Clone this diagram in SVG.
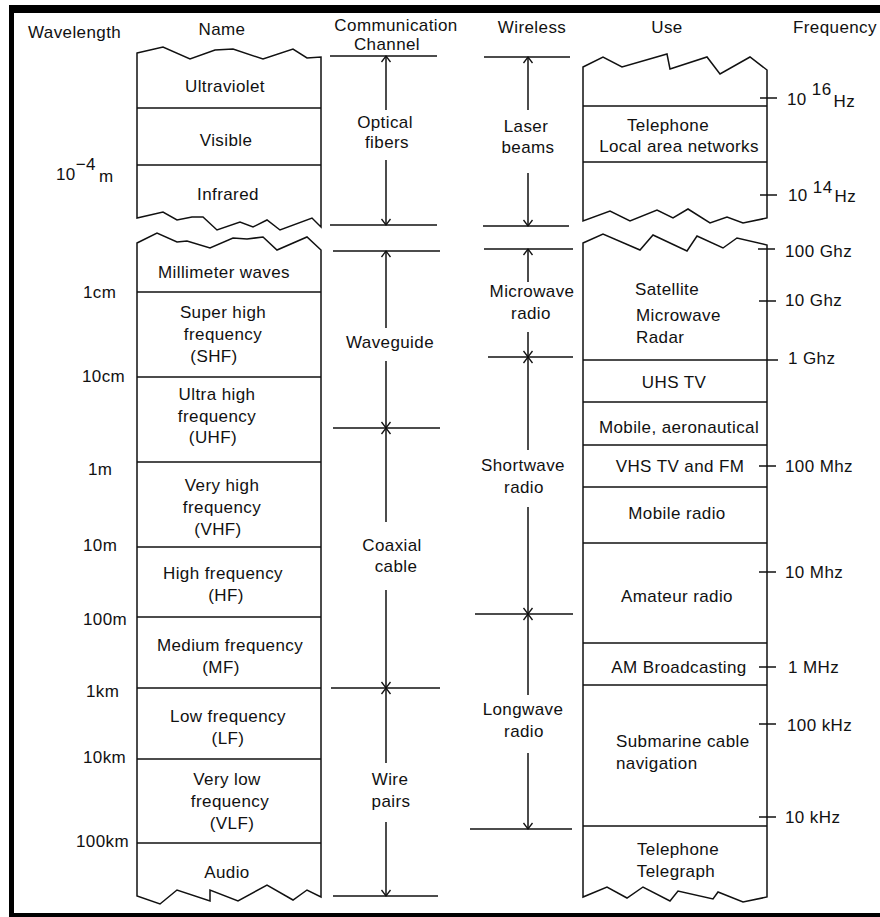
<svg xmlns="http://www.w3.org/2000/svg" width="880" height="917" viewBox="0 0 880 917">
<defs>
<style>
text{font-family:"Liberation Sans",Arial,sans-serif;font-size:17px;fill:#111;letter-spacing:0.4px}
.c{text-anchor:middle}
.ln{stroke:#111;stroke-width:1.5;fill:none}
.box{stroke:#111;stroke-width:1.5;fill:#fff;stroke-linejoin:miter}
.arr{stroke:#111;stroke-width:1.5;fill:none;marker-end:url(#ah)}
</style>
<marker id="ah" markerUnits="userSpaceOnUse" viewBox="-8 -6 10 12" refX="0" refY="0" markerWidth="10" markerHeight="12" orient="auto">
<path d="M-6,-4.5 L0,0 L-6,4.5" fill="none" stroke="#111" stroke-width="1.3"/>
</marker>
</defs>
<rect width="880" height="917" fill="#fff"/>
<g id="frame">
<rect x="9" y="5" width="871" height="8" fill="#000"/>
<rect x="9" y="5" width="5" height="912" fill="#000"/>
<rect x="9" y="913" width="871" height="4" fill="#000"/>
</g>
<g id="headers">
<text x="28" y="38">Wavelength</text>
<text class="c" x="222" y="35">Name</text>
<text class="c" x="396" y="31">Communication</text>
<text class="c" x="387" y="50">Channel</text>
<text class="c" x="532" y="33">Wireless</text>
<text class="c" x="667" y="33">Use</text>
<text x="793" y="33">Frequency</text>
</g>
<g id="name-column">
<g id="name-optical">
<path class="box" d="M137,53 L163,47 L190,59 L215,50 L233,49 L263,59 L293,49 L307,58 L321,57 L321,227 L312,218 L280,230 L267,220 L253,227 L240,222 L217,230 L203,217 L192,217 L177,220 L163,212 L137,218 Z"/>
<line class="ln" x1="137" y1="108" x2="321" y2="108"/>
<line class="ln" x1="137" y1="165" x2="321" y2="165"/>
<text class="c" x="225" y="92">Ultraviolet</text>
<text class="c" x="226" y="146">Visible</text>
<text class="c" x="228" y="200">Infrared</text>
</g>
<g id="name-radio">
<path class="box" d="M137,243 L157,233 L177,242 L187,241 L210,248 L233,238 L247,239 L263,237 L277,250 L307,237 L321,250 L321,897 L307,890 L293,900 L267,885 L238,901 L210,890 L210,901 L177,890 L160,904 L137,896 Z"/>
<line class="ln" x1="137" y1="292" x2="321" y2="292"/>
<line class="ln" x1="137" y1="377" x2="321" y2="377"/>
<line class="ln" x1="137" y1="462" x2="321" y2="462"/>
<line class="ln" x1="137" y1="547" x2="321" y2="547"/>
<line class="ln" x1="137" y1="617" x2="321" y2="617"/>
<line class="ln" x1="137" y1="688" x2="321" y2="688"/>
<line class="ln" x1="137" y1="759" x2="321" y2="759"/>
<line class="ln" x1="137" y1="843" x2="321" y2="843"/>
<text class="c" x="224" y="278">Millimeter waves</text>
<text class="c" x="223" y="318">Super high</text>
<text class="c" x="223" y="340">frequency</text>
<text class="c" x="214" y="362">(SHF)</text>
<text class="c" x="217" y="400">Ultra high</text>
<text class="c" x="217" y="422">frequency</text>
<text class="c" x="213" y="443">(UHF)</text>
<text class="c" x="222" y="491">Very high</text>
<text class="c" x="222" y="513">frequency</text>
<text class="c" x="218" y="535">(VHF)</text>
<text class="c" x="223" y="579">High frequency</text>
<text class="c" x="226" y="601">(HF)</text>
<text class="c" x="230" y="651">Medium frequency</text>
<text class="c" x="221" y="673">(MF)</text>
<text class="c" x="228" y="722">Low frequency</text>
<text class="c" x="228" y="744">(LF)</text>
<text class="c" x="227" y="785">Very low</text>
<text class="c" x="230" y="807">frequency</text>
<text class="c" x="232" y="829">(VLF)</text>
<text class="c" x="227" y="878">Audio</text>
</g>
</g>
<g id="wavelength-labels">
<text x="56" y="180">10<tspan dy="-10">−4</tspan><tspan dx="3" dy="12">m</tspan></text>
<text x="83" y="298">1cm</text>
<text x="82" y="382">10cm</text>
<text x="88" y="475">1m</text>
<text x="83" y="551">10m</text>
<text x="83" y="625">100m</text>
<text x="86" y="697">1km</text>
<text x="83" y="763">10km</text>
<text x="76" y="847">100km</text>
</g>
<g id="channel-column">
<line class="ln" x1="330" y1="56" x2="437" y2="56"/>
<line class="ln" x1="330" y1="225" x2="437" y2="225"/>
<line class="ln" x1="333" y1="251" x2="440" y2="251"/>
<line class="ln" x1="333" y1="428" x2="440" y2="428"/>
<line class="ln" x1="331" y1="688" x2="440" y2="688"/>
<line class="ln" x1="333" y1="896" x2="438" y2="896"/>
<text class="c" x="385" y="128">Optical</text>
<text class="c" x="387" y="148">fibers</text>
<text class="c" x="390" y="348">Waveguide</text>
<text class="c" x="392" y="551">Coaxial</text>
<text class="c" x="396" y="572">cable</text>
<text class="c" x="390" y="785">Wire</text>
<text class="c" x="391" y="807">pairs</text>
</g>
<g id="wireless-column">
<line class="ln" x1="484" y1="57" x2="570" y2="57"/>
<line class="ln" x1="483" y1="226" x2="569" y2="226"/>
<line class="ln" x1="484" y1="249" x2="573" y2="249"/>
<line class="ln" x1="488" y1="357" x2="573" y2="357"/>
<line class="ln" x1="475" y1="614" x2="573" y2="614"/>
<line class="ln" x1="470" y1="829" x2="572" y2="829"/>
<text class="c" x="526" y="132">Laser</text>
<text class="c" x="528" y="153">beams</text>
<text class="c" x="532" y="297">Microwave</text>
<text class="c" x="531" y="319">radio</text>
<text class="c" x="523" y="471">Shortwave</text>
<text class="c" x="524" y="493">radio</text>
<text class="c" x="523" y="715">Longwave</text>
<text class="c" x="524" y="737">radio</text>
</g>
<g id="use-column">
<g id="use-optical">
<path class="box" d="M583,67 L603,57 L622,67 L667,54 L670,69 L707,57 L720,74 L750,57 L767,70 L767,218 L743,223 L727,217 L710,223 L688,209 L673,218 L657,210 L630,221 L610,211 L583,221 Z"/>
<line class="ln" x1="583" y1="106" x2="767" y2="106"/>
<line class="ln" x1="583" y1="162" x2="767" y2="162"/>
<text class="c" x="668" y="131">Telephone</text>
<text class="c" x="679" y="152">Local area networks</text>
</g>
<g id="use-radio">
<path class="box" d="M583,243 L603,234 L640,250 L653,235 L687,251 L697,236 L723,248 L737,238 L767,245 L767,897 L743,902 L718,892 L713,899 L678,891 L670,901 L643,887 L627,898 L607,887 L583,897 Z"/>
<line class="ln" x1="583" y1="360" x2="778" y2="360"/>
<line class="ln" x1="583" y1="402" x2="767" y2="402"/>
<line class="ln" x1="583" y1="445" x2="767" y2="445"/>
<line class="ln" x1="583" y1="487" x2="767" y2="487"/>
<line class="ln" x1="583" y1="543" x2="767" y2="543"/>
<line class="ln" x1="583" y1="643" x2="767" y2="643"/>
<line class="ln" x1="583" y1="685" x2="767" y2="685"/>
<line class="ln" x1="583" y1="826" x2="767" y2="826"/>
<text x="635" y="295">Satellite</text>
<text x="636" y="321">Microwave</text>
<text x="636" y="343">Radar</text>
<text class="c" x="674" y="388">UHS TV</text>
<text class="c" x="679" y="433">Mobile, aeronautical</text>
<text class="c" x="680" y="472">VHS TV and FM</text>
<text class="c" x="677" y="519">Mobile radio</text>
<text class="c" x="677" y="602">Amateur radio</text>
<text class="c" x="679" y="673">AM Broadcasting</text>
<text x="616" y="747">Submarine cable</text>
<text x="616" y="769">navigation</text>
<text class="c" x="678" y="855">Telephone</text>
<text class="c" x="676" y="877">Telegraph</text>
</g>
</g>
<g id="frequency-labels">
<line class="ln" x1="760" y1="98" x2="777" y2="98"/>
<line class="ln" x1="760" y1="195" x2="777" y2="195"/>
<line class="ln" x1="758" y1="249" x2="775" y2="249"/>
<line class="ln" x1="759" y1="301" x2="776" y2="301"/>
<line class="ln" x1="759" y1="466" x2="776" y2="466"/>
<line class="ln" x1="759" y1="572" x2="776" y2="572"/>
<line class="ln" x1="759" y1="667" x2="776" y2="667"/>
<line class="ln" x1="759" y1="724" x2="776" y2="724"/>
<line class="ln" x1="759" y1="817" x2="776" y2="817"/>
<text x="787" y="105">10 <tspan dy="-10">16</tspan><tspan dx="2" dy="12">Hz</tspan></text>
<text x="788" y="201">10 <tspan dy="-8">14</tspan><tspan dx="2" dy="9">Hz</tspan></text>
<text x="785" y="257">100 Ghz</text>
<text x="785" y="306">10 Ghz</text>
<text x="788" y="364">1 Ghz</text>
<text x="785" y="472">100 Mhz</text>
<text x="785" y="578">10 Mhz</text>
<text x="788" y="673">1 MHz</text>
<text x="787" y="731">100 kHz</text>
<text x="785" y="823">10 kHz</text>
</g>
<g id="connectors">
<line class="arr" x1="386" y1="110" x2="386" y2="56"/>
<line class="arr" x1="386" y1="160" x2="386" y2="225"/>
<line class="arr" x1="386" y1="328" x2="386" y2="251"/>
<line class="arr" x1="386" y1="361" x2="386" y2="428"/>
<line class="arr" x1="386" y1="522" x2="386" y2="428"/>
<line class="arr" x1="386" y1="590" x2="386" y2="688"/>
<line class="arr" x1="386" y1="763" x2="386" y2="688"/>
<line class="arr" x1="386" y1="822" x2="386" y2="896"/>
<line class="arr" x1="528" y1="110" x2="528" y2="57"/>
<line class="arr" x1="528" y1="173" x2="528" y2="226"/>
<line class="arr" x1="528" y1="282" x2="528" y2="249"/>
<line class="arr" x1="528" y1="332" x2="528" y2="357"/>
<line class="arr" x1="528" y1="450" x2="528" y2="357"/>
<line class="arr" x1="528" y1="507" x2="528" y2="614"/>
<line class="arr" x1="528" y1="695" x2="528" y2="614"/>
<line class="arr" x1="528" y1="753" x2="528" y2="829"/>
</g>
</svg>
